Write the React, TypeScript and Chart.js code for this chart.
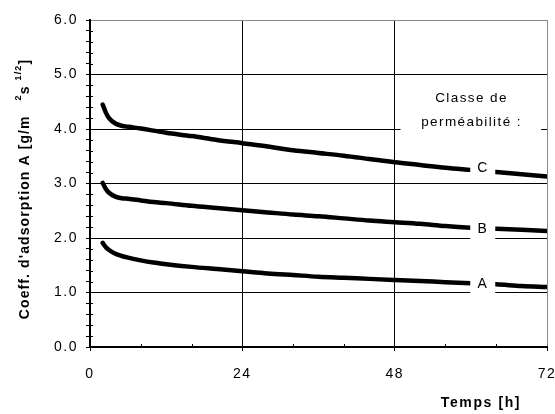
import React, { useEffect, useRef } from 'react';
import { Chart, registerables } from 'chart.js';

Chart.register(...registerables);

// ---- data ----
const hours = [2, 2.5, 3, 4, 5, 6, 8, 10, 12, 16, 20, 24, 28, 32, 36, 40, 44, 48, 52, 56, 60, 64, 68, 72];
const classA = [1.91, 1.83, 1.78, 1.71, 1.67, 1.64, 1.59, 1.55, 1.52, 1.47, 1.43, 1.39, 1.35, 1.32, 1.29, 1.27, 1.25, 1.23, 1.21, 1.19, 1.17, 1.15, 1.12, 1.10];
const classB = [3.01, 2.90, 2.83, 2.76, 2.73, 2.72, 2.69, 2.66, 2.64, 2.59, 2.55, 2.51, 2.47, 2.43, 2.40, 2.36, 2.32, 2.29, 2.26, 2.22, 2.19, 2.17, 2.15, 2.13];
const classC = [4.45, 4.30, 4.20, 4.10, 4.06, 4.04, 4.01, 3.97, 3.93, 3.87, 3.80, 3.74, 3.68, 3.61, 3.56, 3.51, 3.45, 3.39, 3.34, 3.29, 3.25, 3.21, 3.17, 3.13];
const classNames = ['A', 'B', 'C'];
const classLabelHour = 61.8;
const classLabelValues = [1.17, 2.18, 3.30];
const noteLines = ['Classe de', 'perméabilité :'];
const noteHour = 60.0;
const noteValues = [4.57, 4.13];
const xMajorTicks = [0, 24, 48, 72];
const xTitle = 'Temps [h]';

const isInt = (v: number) => Math.abs(v - Math.round(v)) < 1e-6;
const isXMajor = (v: number) => xMajorTicks.some((m) => Math.abs(m - v) < 1e-6);

const FONT = '"Liberation Sans", Arial, Helvetica, sans-serif';

const decorPlugin = {
  id: 'decor',
  beforeDraw(chart: any) {
    chart.ctx.letterSpacing = '1.5px';
  },
  afterDatasetsDraw(chart: any) {
    const { ctx, scales } = chart;
    const xs = scales.x;
    const ys = scales.y;
    ctx.save();
    // inward minor ticks
    ctx.strokeStyle = '#000';
    ctx.lineWidth = 1;
    const x0 = xs.getPixelForValue(0);
    const y0 = ys.getPixelForValue(0);
    for (let i = 1; i < 30; i++) {
      const v = i * 0.2;
      if (isInt(v)) continue;
      const py = Math.round(ys.getPixelForValue(v)) + 0.5;
      ctx.beginPath();
      ctx.moveTo(x0, py);
      ctx.lineTo(x0 + 3, py);
      ctx.stroke();
    }
    for (let h = 8; h < 72; h += 8) {
      if (isXMajor(h)) continue;
      const px = Math.round(xs.getPixelForValue(h)) + 0.5;
      ctx.beginPath();
      ctx.moveTo(px, y0);
      ctx.lineTo(px, y0 - 3);
      ctx.stroke();
    }

    // class labels with white background
    ctx.font = `14px ${FONT}`;
    ctx.letterSpacing = '0px';
    ctx.textAlign = 'center';
    ctx.textBaseline = 'middle';
    classNames.forEach((n, i) => {
      const px = xs.getPixelForValue(classLabelHour);
      const py = ys.getPixelForValue(classLabelValues[i]);
      ctx.fillStyle = '#fff';
      ctx.fillRect(px - 12, py - 11, 25, 22);
      ctx.fillStyle = '#000';
      ctx.fillText(n, px, py + 1);
    });

    // note text with white background
    ctx.font = `13.5px ${FONT}`;
    ctx.letterSpacing = '1.4px';
    const nx = xs.getPixelForValue(noteHour);
    const widths = noteLines.map((l) => ctx.measureText(l).width);
    const wmax = Math.max(...widths);
    const top = ys.getPixelForValue(noteValues[0]) - 10;
    const bottom = ys.getPixelForValue(noteValues[1]) + 9;
    ctx.fillStyle = '#fff';
    ctx.fillRect(nx - wmax / 2 - 20, top, wmax + 40, bottom - top);
    ctx.fillStyle = '#000';
    noteLines.forEach((l, i) => {
      ctx.fillText(l, nx + 0.7, ys.getPixelForValue(noteValues[i]));
    });
    ctx.restore();
  },
  afterDraw(chart: any) {
    const { ctx } = chart;
    ctx.save();
    // x title
    ctx.font = `bold 14px ${FONT}`;
    ctx.letterSpacing = '1.6px';
    ctx.fillStyle = '#000';
    ctx.textAlign = 'center';
    ctx.textBaseline = 'middle';
    ctx.fillText(xTitle, 481, 403);

    // y title with superscripts
    const segs = [
      { t: "Coeff. d'adsorption A [g/m", s: 14, dy: 0 },
      { t: '   ', s: 14, dy: 0 },
      { t: '2', s: 9, dy: -6 },
      { t: 's', s: 14, dy: 0 },
      { t: ' ', s: 14, dy: 0 },
      { t: '1/2', s: 9, dy: -6 },
      { t: ']', s: 14, dy: 0 },
    ];
    ctx.letterSpacing = '1.1px';
    let total = 0;
    const ws = segs.map((g) => {
      ctx.font = `bold ${g.s}px ${FONT}`;
      const w = ctx.measureText(g.t).width;
      total += w;
      return w;
    });
    ctx.translate(25, 189);
    ctx.rotate(-Math.PI / 2);
    ctx.textAlign = 'left';
    let cx = -total / 2;
    segs.forEach((g, i) => {
      ctx.font = `bold ${g.s}px ${FONT}`;
      ctx.fillText(g.t, cx, g.dy);
      cx += ws[i];
    });
    ctx.restore();
  },
};

export default function App() {
  const ref = useRef<HTMLCanvasElement | null>(null);
  useEffect(() => {
    if (!ref.current) return;
    const mk = (vals: number[]) => hours.map((h, i) => ({ x: h, y: vals[i] }));
    const ds = (label: string, vals: number[]) => ({
      label,
      data: mk(vals),
      borderColor: '#000',
      backgroundColor: '#000',
      borderWidth: 4.5,
      pointRadius: 0,
      tension: 0.3,
      cubicInterpolationMode: 'monotone' as const,
      borderCapStyle: 'round' as const,
      fill: false,
    });
    const chart = new Chart(ref.current, {
      type: 'line',
      data: {
        datasets: [ds('A', classA), ds('B', classB), ds('C', classC)],
      },
      options: {
        animation: false,
        responsive: true,
        maintainAspectRatio: false,
        layout: { padding: { top: 20, right: 8, left: 0, bottom: 0 } },
        plugins: { legend: { display: false }, tooltip: { enabled: false }, title: { display: false } },
        scales: {
          x: {
            type: 'linear',
            min: 0,
            max: 72,
            afterFit: (s: any) => {
              s.height = 67;
              s.paddingLeft = 0;
              s.paddingRight = 0;
            },
            ticks: {
              stepSize: 8,
              autoSkip: false,
              maxRotation: 0,
              padding: 15,
              color: '#000',
              font: { family: FONT, size: 14 },
              callback: (v: any) => (isXMajor(Number(v)) ? String(v) : ''),
            },
            grid: {
              color: (c: any) => {
                const v = c.tick ? c.tick.value : -1;
                if (Math.abs(v - 72) < 1e-6) return '#888';
                if (Math.abs(v - 24) < 1e-6 || Math.abs(v - 48) < 1e-6) return '#000';
                return 'rgba(0,0,0,0)';
              },
              tickColor: (c: any) => (c.tick && isXMajor(c.tick.value) ? '#000' : 'rgba(0,0,0,0)'),
              tickLength: 4,
              lineWidth: 1,
            },
            border: { display: true, color: '#000', width: 2 },
          },
          y: {
            type: 'linear',
            min: 0,
            max: 6,
            afterFit: (s: any) => {
              s.width = 90;
              s.paddingTop = 0;
              s.paddingBottom = 0;
            },
            ticks: {
              stepSize: 0.2,
              autoSkip: false,
              padding: 8,
              color: '#000',
              font: { family: FONT, size: 14 },
              callback: (v: any) => (isInt(Number(v)) ? Number(v).toFixed(1) : ''),
            },
            grid: {
              color: (c: any) => {
                const v = c.tick ? c.tick.value : -1;
                if (Math.abs(v - 6) < 1e-6) return '#888';
                if (isInt(v) && v > 0.5) return '#000';
                return 'rgba(0,0,0,0)';
              },
              tickColor: '#000',
              tickLength: 4,
              lineWidth: 1,
            },
            border: { display: true, color: '#000', width: 2 },
          },
        },
      },
      plugins: [decorPlugin],
    });
    return () => chart.destroy();
  }, []);
  return (
    <div style={{ position: 'fixed', left: 0, top: 0, width: 555, height: 414, background: '#fff' }}>
      <canvas ref={ref} />
    </div>
  );
}
